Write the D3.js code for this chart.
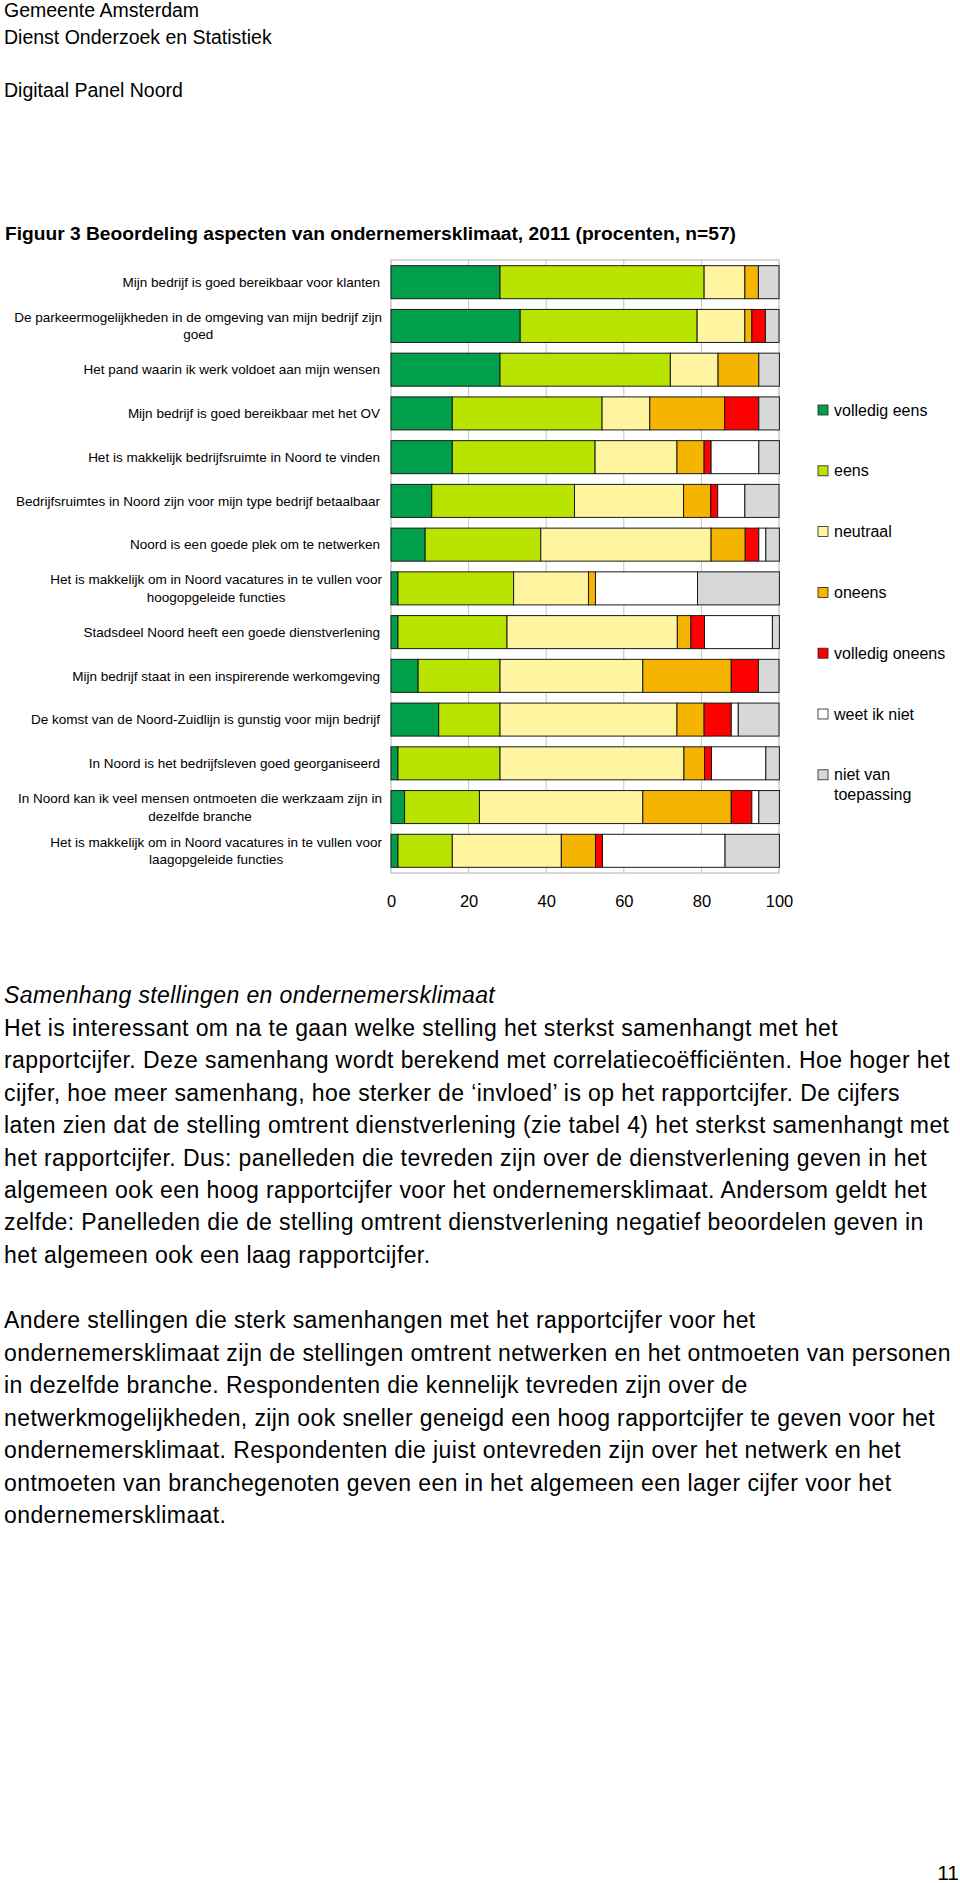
<!DOCTYPE html>
<html><head><meta charset="utf-8">
<script src="https://cdn.jsdelivr.net/npm/d3@7"></script>
<style>
body{margin:0;background:#fff}
svg{display:block}
text{font-family:"Liberation Sans",Arial,Helvetica,sans-serif;fill:#000}
</style>
</head><body><div id="chart"></div>
<script>
// ---------- data ----------
const headerLines = ["Gemeente Amsterdam", "Dienst Onderzoek en Statistiek", "", "Digitaal Panel Noord"];
const title = "Figuur 3 Beoordeling aspecten van ondernemersklimaat, 2011 (procenten, n=57)";

const categories = [
  ["Mijn bedrijf is goed bereikbaar voor klanten"],
  ["De parkeermogelijkheden in de omgeving van mijn bedrijf zijn", "goed"],
  ["Het pand waarin ik werk voldoet aan mijn wensen"],
  ["Mijn bedrijf is goed bereikbaar met het OV"],
  ["Het is makkelijk bedrijfsruimte in Noord te vinden"],
  ["Bedrijfsruimtes in Noord zijn voor mijn type bedrijf betaalbaar"],
  ["Noord is een goede plek om te netwerken"],
  ["Het is makkelijk om in Noord vacatures in te vullen voor", "hoogopgeleide functies"],
  ["Stadsdeel Noord heeft een goede dienstverlening"],
  ["Mijn bedrijf staat in een inspirerende werkomgeving"],
  ["De komst van de Noord-Zuidlijn is gunstig voor mijn bedrijf"],
  ["In Noord is het bedrijfsleven goed georganiseerd"],
  ["In Noord kan ik veel mensen ontmoeten die werkzaam zijn in", "dezelfde branche"],
  ["Het is makkelijk om in Noord vacatures in te vullen voor", "laagopgeleide functies"]
];

const seriesNames = ["volledig eens", "eens", "neutraal", "oneens", "volledig oneens", "weet ik niet", "niet van toepassing"];
const legendLabels = [["volledig eens"], ["eens"], ["neutraal"], ["oneens"], ["volledig oneens"], ["weet ik niet"], ["niet van", "toepassing"]];
const seriesColors = ["#00a04b", "#b8e400", "#fff4a0", "#f5b400", "#ff0000", "#ffffff", "#d8d8d8"];

const volledigEens   = [28.1, 33.3, 28.1, 15.8, 15.8, 10.5, 8.8, 1.8, 1.8, 7.0, 12.3, 1.8, 3.5, 1.8];
const eens           = [52.6, 45.6, 43.9, 38.6, 36.8, 36.8, 29.8, 29.8, 28.1, 21.1, 15.8, 26.3, 19.3, 14.0];
const neutraal       = [10.5, 12.3, 12.3, 12.3, 21.1, 28.1, 43.9, 19.3, 43.9, 36.8, 45.6, 47.4, 42.1, 28.1];
const oneens         = [3.5, 1.8, 10.5, 19.3, 7.0, 7.0, 8.8, 1.8, 3.5, 22.8, 7.0, 5.3, 22.8, 8.8];
const volledigOneens = [0, 3.5, 0, 8.8, 1.8, 1.8, 3.5, 0, 3.5, 7.0, 7.0, 1.8, 5.3, 1.8];
const weetIkNiet     = [0, 0, 0, 0, 12.3, 7.0, 1.8, 26.3, 17.5, 0, 1.8, 14.0, 1.8, 31.6];
const nietVanToep    = [5.3, 3.5, 5.3, 5.3, 5.3, 8.8, 3.5, 21.1, 1.8, 5.3, 10.5, 3.5, 5.3, 14.0];

const tickValues = [0, 20, 40, 60, 80, 100];

const bodyHeading = "Samenhang stellingen en ondernemersklimaat";
const paragraph1 = [
  "Het is interessant om na te gaan welke stelling het sterkst samenhangt met het",
  "rapportcijfer. Deze samenhang wordt berekend met correlatiecoëfficiënten. Hoe hoger het",
  "cijfer, hoe meer samenhang, hoe sterker de \u2018invloed\u2019 is op het rapportcijfer. De cijfers",
  "laten zien dat de stelling omtrent dienstverlening (zie tabel 4) het sterkst samenhangt met",
  "het rapportcijfer. Dus: panelleden die tevreden zijn over de dienstverlening geven in het",
  "algemeen ook een hoog rapportcijfer voor het ondernemersklimaat. Andersom geldt het",
  "zelfde: Panelleden die de stelling omtrent dienstverlening negatief beoordelen geven in",
  "het algemeen ook een laag rapportcijfer."
];
const paragraph2 = [
  "Andere stellingen die sterk samenhangen met het rapportcijfer voor het",
  "ondernemersklimaat zijn de stellingen omtrent netwerken en het ontmoeten van personen",
  "in dezelfde branche. Respondenten die kennelijk tevreden zijn over de",
  "netwerkmogelijkheden, zijn ook sneller geneigd een hoog rapportcijfer te geven voor het",
  "ondernemersklimaat. Respondenten die juist ontevreden zijn over het netwerk en het",
  "ontmoeten van branchegenoten geven een in het algemeen een lager cijfer voor het",
  "ondernemersklimaat."
];
const pageNumber = "11";

// ---------- build ----------
const W = 960, H = 1883;
const svg = d3.select("#chart").append("svg").attr("width", W).attr("height", H);
svg.append("rect").attr("width", W).attr("height", H).attr("fill", "#fff");

// header
svg.append("g").selectAll("text").data(headerLines).join("text")
  .attr("x", 4).attr("y", (d, i) => 17 + i * 26.6)
  .style("font-size", "19.5px").text(d => d);

svg.append("text").attr("x", 5).attr("y", 240)
  .style("font-size", "19.2px").style("font-weight", "bold").text(title);

// chart
const valuesBySeries = [volledigEens, eens, neutraal, oneens, volledigOneens, weetIkNiet, nietVanToep];
const rows = categories.map((c, i) => {
  const r = { key: i };
  seriesNames.forEach((s, j) => r[s] = valuesBySeries[j][i]);
  return r;
});
const stack = d3.stack().keys(seriesNames)(rows);

const plot = { left: 391, right: 779, top: 260, bottom: 873 };
const x = d3.scaleLinear().domain([0, 100]).range([plot.left, plot.right]);
const y = d3.scaleBand().domain(d3.range(categories.length))
  .range([plot.top, plot.bottom]).paddingInner(0.245).paddingOuter(0.13);

// gridlines
svg.append("g").selectAll("line").data(tickValues.slice(1, -1)).join("line")
  .attr("x1", d => x(d)).attr("x2", d => x(d))
  .attr("y1", plot.top).attr("y2", plot.bottom)
  .attr("stroke", "#c4c4c4").attr("stroke-width", 1);

// plot border
svg.append("rect").attr("x", plot.left).attr("y", plot.top)
  .attr("width", plot.right - plot.left).attr("height", plot.bottom - plot.top)
  .attr("fill", "none").attr("stroke", "#b0b0b0").attr("stroke-width", 1);

// bars
const color = d3.scaleOrdinal().domain(seriesNames).range(seriesColors);
svg.append("g").selectAll("g").data(stack).join("g")
  .attr("fill", d => color(d.key))
  .selectAll("rect").data(d => d.filter(s => s[1] - s[0] > 0)).join("rect")
  .attr("x", d => x(d[0]))
  .attr("y", d => y(d.data.key))
  .attr("width", d => x(d[1]) - x(d[0]))
  .attr("height", y.bandwidth())
  .attr("stroke", "#1a1a1a").attr("stroke-width", 1);

// x axis
const xAxis = svg.append("g").attr("transform", `translate(0,${plot.bottom})`)
  .call(d3.axisBottom(x).tickValues(tickValues).tickSize(0).tickPadding(22));
xAxis.select(".domain").remove();
xAxis.selectAll("text").style("font-size", "16.5px")
  .style("font-family", '"Liberation Sans",Arial,sans-serif').attr("fill", "#000");

// category labels
const labelG = svg.append("g");
categories.forEach((lines, i) => {
  const cy = y(i) + y.bandwidth() / 2;
  const g = labelG.append("g");
  const n = lines.length;
  const ts = g.selectAll("text").data(lines).join("text")
    .attr("y", (d, k) => cy + (k - (n - 1) / 2) * 17.5)
    .attr("dy", "0.35em")
    .style("font-size", "13.5px").text(d => d);
  const rightEdge = 382;
  if (n === 1) {
    ts.attr("x", rightEdge - 2).attr("text-anchor", "end");
  } else {
    let maxW = 0;
    ts.each(function () { maxW = Math.max(maxW, this.getComputedTextLength()); });
    ts.attr("x", rightEdge - maxW / 2).attr("text-anchor", "middle");
  }
});

// legend
const legend = svg.append("g");
legendLabels.forEach((lines, i) => {
  const cy = 410 + i * 60.8;
  legend.append("rect").attr("x", 818).attr("y", cy - 5).attr("width", 10).attr("height", 10)
    .attr("fill", seriesColors[i]).attr("stroke", "#222").attr("stroke-width", 0.8);
  legend.append("g").selectAll("text").data(lines).join("text")
    .attr("x", 834).attr("y", (d, k) => cy + k * 20).attr("dy", "0.35em")
    .style("font-size", "16px").text(d => d);
});

// body text
const bodyStyle = t => t.style("font-size", "23px").style("letter-spacing", "0.4px");
svg.append("text").attr("x", 4).attr("y", 1003).style("font-style", "italic")
  .call(bodyStyle).text(bodyHeading);
svg.append("g").selectAll("text").data(paragraph1).join("text")
  .attr("x", 4).attr("y", (d, i) => 1036 + i * 32.4).call(bodyStyle).text(d => d);
svg.append("g").selectAll("text").data(paragraph2).join("text")
  .attr("x", 4).attr("y", (d, i) => 1328 + i * 32.5).call(bodyStyle).text(d => d);

svg.append("text").attr("x", 959).attr("y", 1880).attr("text-anchor", "end")
  .style("font-size", "21px").text(pageNumber);
</script>
</body></html>
